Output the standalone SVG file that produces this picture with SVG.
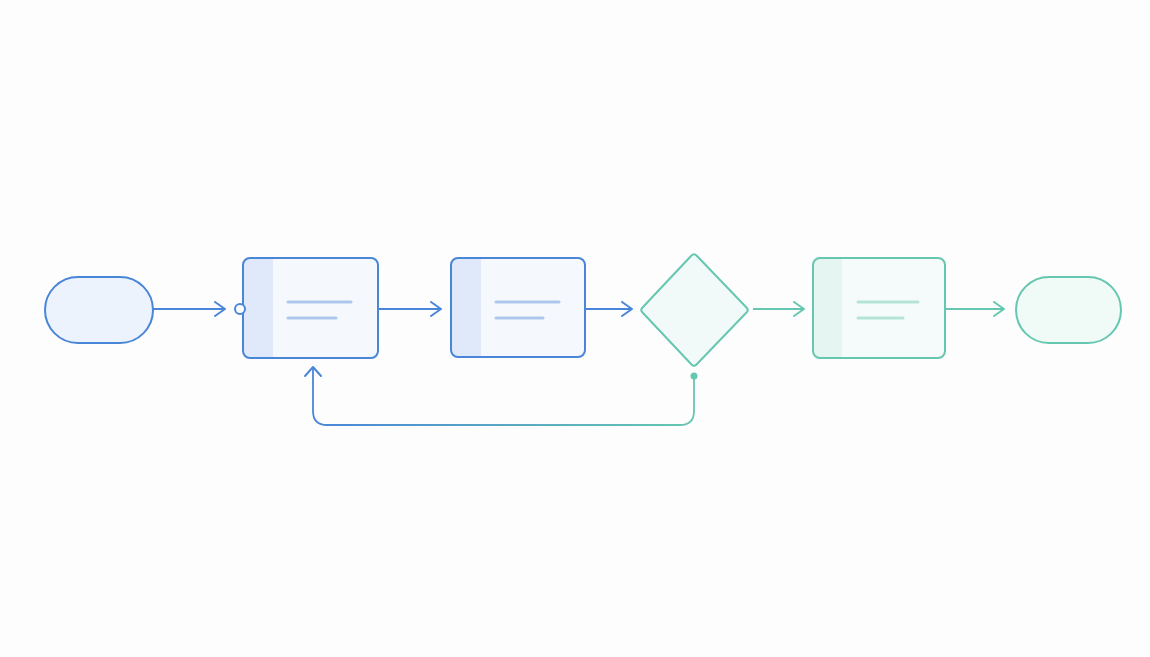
<svg xmlns="http://www.w3.org/2000/svg" width="1150" height="657" viewBox="0 0 1150 657">
<style>
.bs{stroke:#4a86d8;stroke-width:2;}
.ts{stroke:#66c7b0;stroke-width:2;}
.bl{stroke:#adc7ee;stroke-width:3;stroke-linecap:round;}
.tl{stroke:#b5e3d7;stroke-width:3;stroke-linecap:round;}
.cb{fill:none;stroke:#4a86d8;stroke-width:1.8;}
.ct{fill:none;stroke:#66c7b0;stroke-width:1.8;}
</style>
<defs>
<marker id="ab" viewBox="0 0 12 16" refX="11" refY="8" markerWidth="12" markerHeight="16" markerUnits="userSpaceOnUse" orient="auto">
<path d="M1 1 L11 8 L1 15" fill="none" stroke="#4a86d8" stroke-width="2" stroke-linecap="round" stroke-linejoin="round"/>
</marker>
<marker id="at" viewBox="0 0 12 16" refX="11" refY="8" markerWidth="12" markerHeight="16" markerUnits="userSpaceOnUse" orient="auto">
<path d="M1 1 L11 8 L1 15" fill="none" stroke="#66c7b0" stroke-width="2" stroke-linecap="round" stroke-linejoin="round"/>
</marker>
<linearGradient id="lg" gradientUnits="userSpaceOnUse" x1="313" y1="0" x2="694" y2="0">
<stop offset="0" stop-color="#4a86d8"/>
<stop offset="1" stop-color="#66c7b0"/>
</linearGradient>
<clipPath id="c1"><rect x="243" y="258" width="135" height="100" rx="7"/></clipPath>
<clipPath id="c2"><rect x="451" y="258" width="134" height="99" rx="7"/></clipPath>
<clipPath id="c3"><rect x="813" y="258" width="132" height="100" rx="7"/></clipPath>
</defs>
<rect width="1150" height="657" fill="#fdfdfe"/>
<g id="connectors">
<line class="cb" x1="153" y1="309" x2="225" y2="309" marker-end="url(#ab)"/>
<line class="cb" x1="378" y1="309" x2="441" y2="309" marker-end="url(#ab)"/>
<line class="cb" x1="585" y1="309" x2="632" y2="309" marker-end="url(#ab)"/>
<line class="ct" x1="753" y1="309" x2="804" y2="309" marker-end="url(#at)"/>
<line class="ct" x1="945" y1="309" x2="1004" y2="309" marker-end="url(#at)"/>
<path d="M694 376 L694 411 Q694 425 680 425 L327 425 Q313 425 313 411 L313 367" fill="none" stroke="url(#lg)" stroke-width="1.8"/>
<path d="M305 376 L313 367 L321 376" fill="none" stroke="#4a86d8" stroke-width="2" stroke-linecap="round" stroke-linejoin="round"/>
<circle cx="694" cy="376" r="3.5" fill="#66c7b0"/>
</g>
<g id="start">
<rect class="bs" x="45" y="277" width="108" height="66" rx="33" fill="#edf3fc"/>
</g>
<g id="process1">
<rect x="243" y="258" width="135" height="100" rx="7" fill="#f5f8fd"/>
<rect x="243" y="258" width="30" height="100" fill="#dfe9f9" clip-path="url(#c1)"/>
<rect class="bs" x="243" y="258" width="135" height="100" rx="7" fill="none"/>
<line class="bl" x1="288" y1="302" x2="351" y2="302"/>
<line class="bl" x1="288" y1="318" x2="336" y2="318"/>
<circle class="bs" cx="240" cy="309" r="5" fill="#fdfdfe"/>
</g>
<g id="process2">
<rect x="451" y="258" width="134" height="99" rx="7" fill="#f5f8fd"/>
<rect x="451" y="258" width="30" height="99" fill="#dfe9f9" clip-path="url(#c2)"/>
<rect class="bs" x="451" y="258" width="134" height="99" rx="7" fill="none"/>
<line class="bl" x1="496" y1="302" x2="559" y2="302"/>
<line class="bl" x1="496" y1="318" x2="543" y2="318"/>
</g>
<g id="decision">
<path class="ts" d="M691.5 255.5 Q694 253 696.5 255.5 L746.5 307.5 Q749 310 746.5 312.5 L696.5 364.5 Q694 367 691.5 364.5 L642.5 312.5 Q640 310 642.5 307.5 Z" fill="#f1faf9" stroke-linejoin="round"/>
</g>
<g id="process3">
<rect x="813" y="258" width="132" height="100" rx="7" fill="#f5fbfb"/>
<rect x="813" y="258" width="29" height="100" fill="#e5f5f1" clip-path="url(#c3)"/>
<rect class="ts" x="813" y="258" width="132" height="100" rx="7" fill="none"/>
<line class="tl" x1="858" y1="302" x2="918" y2="302"/>
<line class="tl" x1="858" y1="318" x2="903" y2="318"/>
</g>
<g id="end">
<rect class="ts" x="1016" y="277" width="105" height="66" rx="33" fill="#f0faf7"/>
</g>
</svg>
